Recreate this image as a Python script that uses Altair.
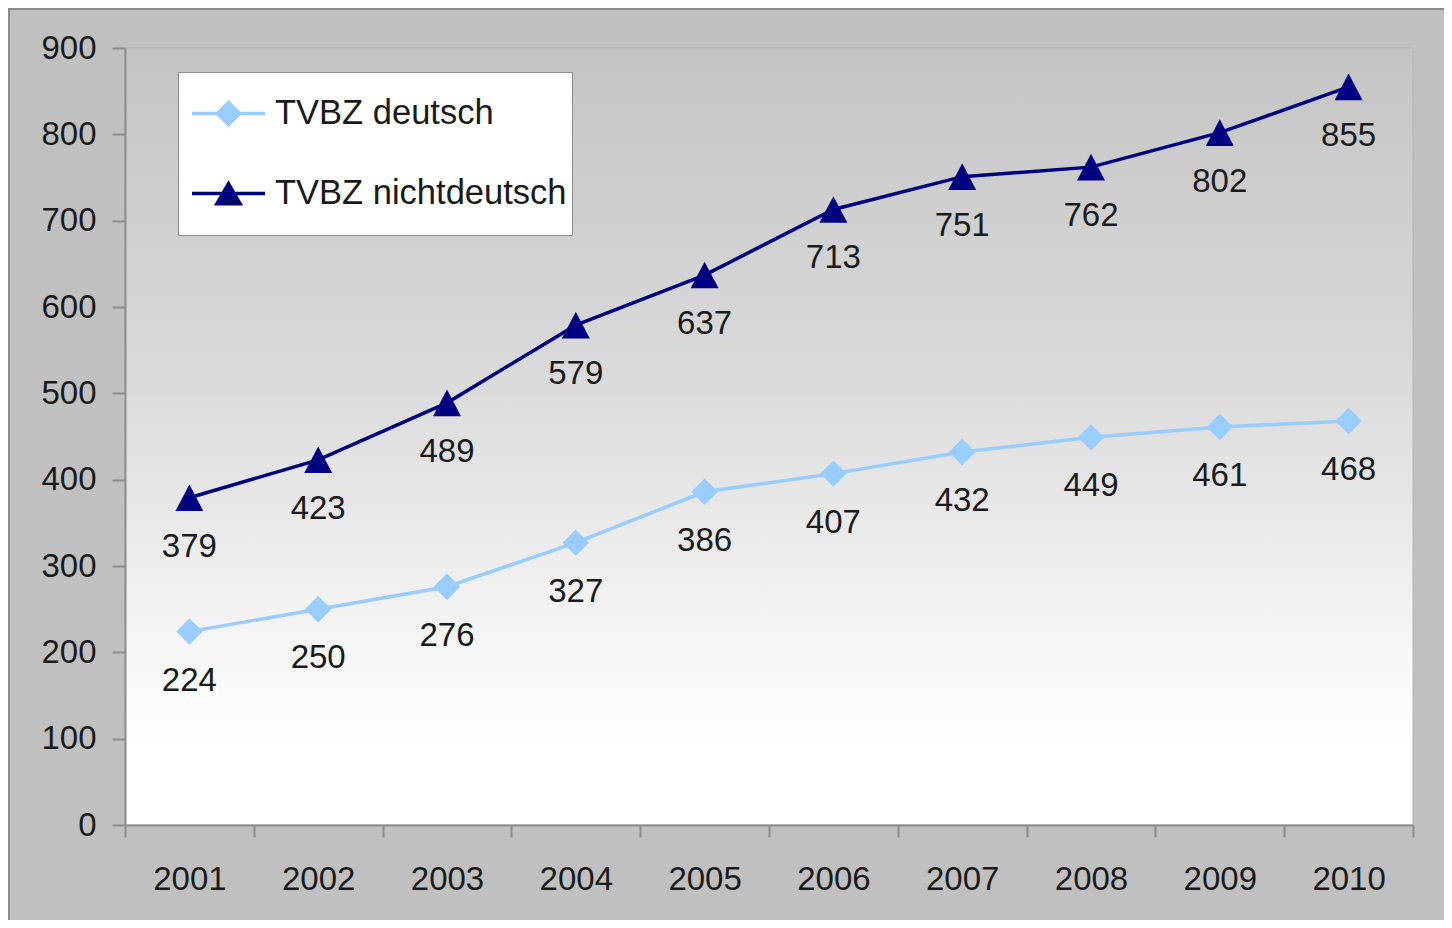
import altair as alt
import pandas as pd

# ---- data ----
years = ["2001", "2002", "2003", "2004", "2005", "2006", "2007", "2008", "2009", "2010"]
deutsch = [224, 250, 276, 327, 386, 407, 432, 449, 461, 468]
nichtdeutsch = [379, 423, 489, 579, 637, 713, 751, 762, 802, 855]
series_names = ["TVBZ deutsch", "TVBZ nichtdeutsch"]
y_ticks = [0, 100, 200, 300, 400, 500, 600, 700, 800, 900]

df = pd.DataFrame({
    "year": years + years,
    "value": deutsch + nichtdeutsch,
    "series": [series_names[0]] * len(years) + [series_names[1]] * len(years),
})

# ---- style ----
LIGHT = "#99ccff"
NAVY = "#000080"
FONT = "Liberation Sans"
TXT = "#1a1a1a"
GRAY = "#8c8c8c"
W, H = 1288, 777
PAD = {"left": 117, "top": 40, "right": 31, "bottom": 95}

# legend symbols: line segment + marker (invisible zero-length segments pad the bounds)
LEG_PAD = "M0,-1L0,-1M0,1L0,1"
DIAMOND_LEG = "M-1,-0.048L1,-0.048L1,0.048L-1,0.048ZM0,-0.37L0.37,0L0,0.37L-0.37,0Z" + LEG_PAD
TRIANGLE_LEG = "M-1,-0.048L1,-0.048L1,0.048L-1,0.048ZM0,-0.36L0.4,0.33L-0.4,0.33Z" + LEG_PAD
TRIANGLE_PT = "M0,-0.95L1,0.95L-1,0.95Z"

color_scale = alt.Scale(domain=series_names, range=[LIGHT, NAVY])
shape_scale = alt.Scale(domain=series_names, range=[DIAMOND_LEG, TRIANGLE_LEG])

x_axis = alt.Axis(tickBand="extent", labelAngle=0, tickSize=12, labelPadding=26,
                  domainColor=GRAY, domainWidth=2, tickColor=GRAY, tickWidth=2,
                  labelFont=FONT, labelFontSize=33, labelColor=TXT, grid=False, zindex=1)
y_axis = alt.Axis(values=y_ticks, tickSize=13, labelPadding=16,
                  domainColor=GRAY, domainWidth=2, tickColor=GRAY, tickWidth=2,
                  labelFont=FONT, labelFontSize=33, labelColor=TXT, grid=False, zindex=1)

x_enc = alt.X("year:O", scale=alt.Scale(type="band", paddingInner=0, paddingOuter=0),
              bandPosition=0.5, title=None, axis=x_axis)
y_enc = alt.Y("value:Q", scale=alt.Scale(domain=[0, 900], nice=False), title=None, axis=y_axis)

one = pd.DataFrame({"k": [0]})

gradient = alt.LinearGradient(
    gradient="linear",
    stops=[
        alt.GradientStop(color="#c4c4c4", offset=0),
        alt.GradientStop(color="#dadada", offset=0.42),
        alt.GradientStop(color="#f2f2f2", offset=0.72),
        alt.GradientStop(color="#ffffff", offset=0.9),
        alt.GradientStop(color="#ffffff", offset=1),
    ],
    x1=0, x2=0, y1=0, y2=1,
)

bg = alt.Chart(one).mark_rect(fill=gradient, stroke="#b4b4b4", strokeWidth=1).encode(
    x=alt.value(0), x2=alt.value(W), y=alt.value(0), y2=alt.value(H)
)

leg = alt.Legend(orient="none", legendX=53, legendY=24, title=None, padding=5,
                 rowPadding=7, symbolOffset=9, labelOffset=10, symbolSize=5329,
                 symbolStrokeWidth=0, symbolOpacity=1, fillColor="white", strokeColor=GRAY,
                 labelFont=FONT, labelFontSize=34.5, labelColor=TXT, labelLimit=600)

legend_layer = alt.Chart(df).mark_point(filled=True, opacity=1).encode(
    color=alt.Color("series:N", scale=color_scale, legend=leg),
    shape=alt.Shape("series:N", scale=shape_scale, legend=leg),
).transform_filter("false")

lines = alt.Chart(df).mark_line(strokeWidth=3.5).encode(
    x=x_enc, y=y_enc, color=alt.Color("series:N", scale=color_scale, legend=None)
)

pts_d = alt.Chart(df).transform_filter(alt.datum.series == series_names[0]).mark_point(
    filled=True, opacity=1, shape="diamond", size=700, color=LIGHT
).encode(x=x_enc, y=y_enc)

pts_n = alt.Chart(df).transform_filter(alt.datum.series == series_names[1]).mark_point(
    filled=True, opacity=1, shape=TRIANGLE_PT, size=784, color=NAVY
).encode(x=x_enc, y=y_enc)

labels = alt.Chart(df).mark_text(dy=49, fontSize=33, font=FONT, color=TXT).encode(
    x=x_enc, y=y_enc, text="value:Q"
)

frame_left = alt.Chart(one).mark_rule(color=GRAY, strokeWidth=2).encode(
    x=alt.value(-116), y=alt.value(-40), y2=alt.value(H + PAD["bottom"])
)
frame_top = alt.Chart(one).mark_rule(color=GRAY, strokeWidth=2).encode(
    x=alt.value(-117), x2=alt.value(W + PAD["right"]), y=alt.value(-39)
)

chart = alt.layer(bg, legend_layer, lines, pts_d, pts_n, labels, frame_left, frame_top).properties(
    width=W, height=H, padding=PAD,
    autosize=alt.AutoSizeParams(type="none"),
    background="#c0c0c0",
).configure_view(strokeWidth=0)

chart.save("out.html", embed_options={"renderer": "svg", "actions": False})
